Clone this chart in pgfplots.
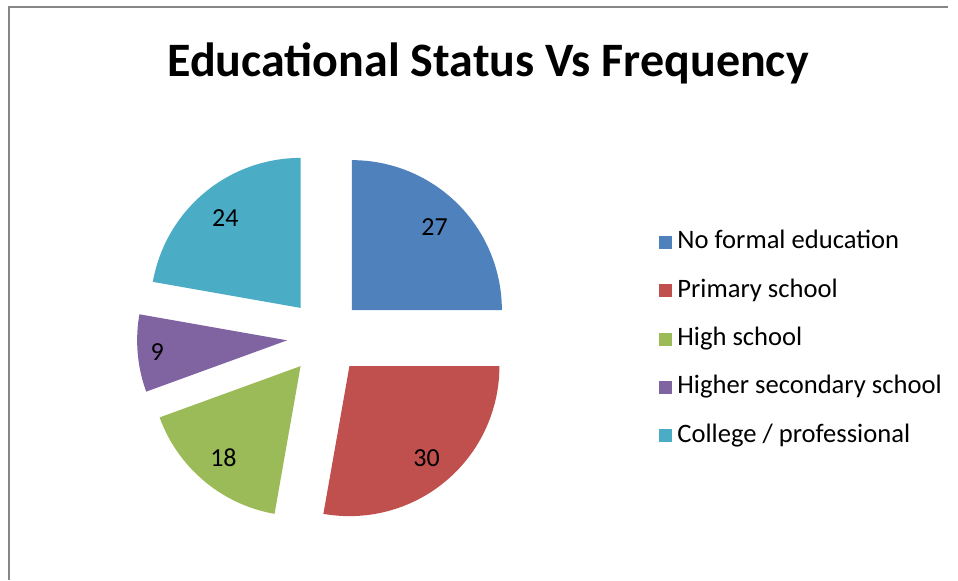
\documentclass[border=0pt]{standalone}
\usepackage{fontspec}
\setmainfont{Carlito}
\usepackage{pgfplots}
\pgfplotsset{compat=1.18}
\definecolor{cA}{HTML}{4F81BD}
\definecolor{cB}{HTML}{C0504D}
\definecolor{cC}{HTML}{9BBB59}
\definecolor{cD}{HTML}{8064A2}
\definecolor{cE}{HTML}{4BACC6}
\definecolor{frame}{HTML}{868686}
% values: 27, 30, 18, 9, 24 (total 108)
\newcommand{\slice}[5]{% #1 cumulative start, #2 value, #3 colour, #4 label radius factor, #5 legend text
  \pgfmathsetmacro\aS{90-(#1+#2)/108*360}%
  \pgfmathsetmacro\aE{90-#1/108*360}%
  \pgfmathsetmacro\aB{(\aS+\aE)/2}%
  \pgfmathsetmacro\ax{325+38*cos(\aB)}%
  \pgfmathsetmacro\ay{337-38*sin(\aB)}%
  \pgfmathsetmacro\lx{\ax+150*#4*cos(\aB)}%
  \pgfmathsetmacro\ly{\ay-150*#4*sin(\aB)}%
  \edef\temp{\noexpand\addplot[fill=#3, draw=none, domain=\aS:\aE, samples=90]
     ({\ax+150*cos(x)},{\ay-150*sin(x)}) -- (axis cs:\ax,\ay) -- cycle;
     \noexpand\addlegendentry{#5}
     \noexpand\node[font=\noexpand\fontsize{13}{15}\noexpand\selectfont] at (axis cs:\lx,\ly) {#2};}%
  \temp
}
\begin{document}
\begin{tikzpicture}
\begin{axis}[
  width=479pt, height=290pt, scale only axis,
  xmin=0, xmax=958, ymin=0, ymax=580, y dir=reverse,
  hide axis, clip=false,
  legend cell align=left,
  legend image code/.code={\fill[#1] (0pt,-3.0pt) rectangle (6.5pt,3.5pt);},
  legend style={at={(axis cs:653,339.5)}, anchor=west, draw=none, fill=none,
    font=\fontsize{13.3}{15}\selectfont,
    row sep=12.15pt,
    nodes={inner xsep=2.5pt, inner ysep=0pt, text height=9pt, text depth=3pt}},
]
\path (axis cs:0,0) rectangle (axis cs:958,580);
\slice{0}{27}{cA}{0.78}{No formal education}
\slice{27}{30}{cB}{0.80}{Primary school}
\slice{57}{18}{cC}{0.80}{High school}
\slice{75}{9}{cD}{0.87}{Higher secondary school}
\slice{84}{24}{cE}{0.78}{College / professional}
\draw[frame, line width=0.6pt] (axis cs:9,580) -- (axis cs:9,7) -- (axis cs:948,7);
\node[font=\fontsize{24}{29}\selectfont\bfseries, anchor=base] at (axis cs:488,76) {Educational Status Vs Frequency};
\end{axis}
\end{tikzpicture}
\end{document}
